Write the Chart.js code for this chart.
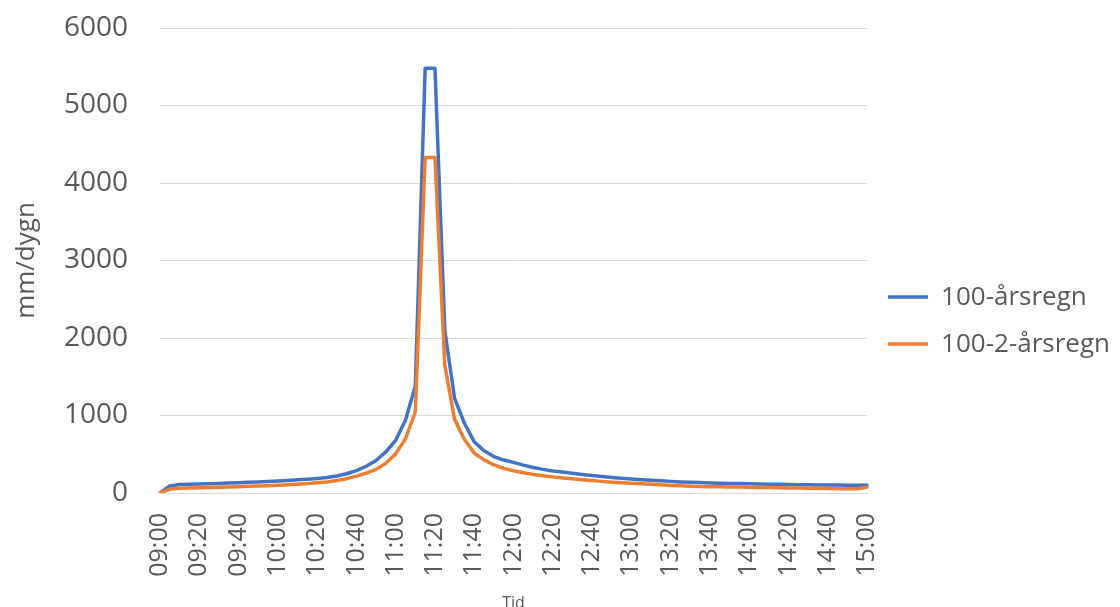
<!DOCTYPE html>
<html>
<head>
<meta charset="utf-8">
<script src="https://cdn.jsdelivr.net/npm/chart.js@4"></script>
<style>
  body { margin: 0; background: #fff; }
  #wrap { width: 1120px; height: 607px; position: relative; }
</style>
</head>
<body>
<div id="wrap"><canvas id="rainChart"></canvas></div>
<script>
// time steps, every 5 minutes
const times = [
  '09:00','09:05','09:10','09:15','09:20','09:25','09:30','09:35','09:40','09:45','09:50','09:55',
  '10:00','10:05','10:10','10:15','10:20','10:25','10:30','10:35','10:40','10:45','10:50','10:55',
  '11:00','11:05','11:10','11:15','11:20','11:25','11:30','11:35','11:40','11:45','11:50','11:55',
  '12:00','12:05','12:10','12:15','12:20','12:25','12:30','12:35','12:40','12:45','12:50','12:55',
  '13:00','13:05','13:10','13:15','13:20','13:25','13:30','13:35','13:40','13:45','13:50','13:55',
  '14:00','14:05','14:10','14:15','14:20','14:25','14:30','14:35','14:40','14:45','14:50','14:55',
  '15:00'
];

// mm/dygn
const rain100 = [
  0, 90, 110, 113, 116, 120, 124, 128, 133, 138, 143, 149,
  155, 162, 170, 178, 188, 200, 220, 248, 288, 345, 420, 530,
  680, 940, 1380, 5480, 5480, 2100, 1220, 900, 660, 545, 470, 425,
  395, 360, 330, 305, 285, 270, 255, 240, 225, 212, 200, 190,
  180, 172, 165, 158, 150, 143, 138, 134, 130, 127, 124, 121,
  118, 116, 114, 112, 110, 108, 106, 104, 103, 102, 101, 100,
  100
];
const rain100_2 = [
  0, 50, 62, 65, 68, 71, 74, 78, 82, 86, 90, 95,
  100, 106, 113, 121, 131, 143, 160, 185, 218, 256, 305, 385,
  505, 700, 1045, 4330, 4330, 1650, 950, 690, 515, 428, 362, 318,
  288, 262, 240, 222, 208, 195, 183, 172, 162, 150, 140, 132,
  125, 118, 112, 105, 98, 92, 88, 85, 82, 80, 78, 76,
  74, 72, 70, 68, 66, 64, 62, 60, 58, 55, 54, 55,
  75
];

const yTicks = [0, 1000, 2000, 3000, 4000, 5000, 6000];
const labelEvery = 4; // one label per 20 minutes

Chart.defaults.font.family = "'Open Sans', 'Noto Sans', sans-serif";
Chart.defaults.color = '#595959';

const ctx = document.getElementById('rainChart').getContext('2d');
new Chart(ctx, {
  type: 'line',
  data: {
    labels: times,
    datasets: [
      {
        label: '100-årsregn',
        data: rain100,
        borderColor: '#4472C4',
        backgroundColor: '#4472C4',
        borderWidth: 3.5,
        order: 1
      },
      {
        label: '100-2-årsregn',
        data: rain100_2,
        borderColor: '#ED7D31',
        backgroundColor: '#ED7D31',
        borderWidth: 3.5,
        order: 0 // drawn on top
      }
    ]
  },
  options: {
    responsive: true,
    maintainAspectRatio: false,
    animation: false,
    layout: { padding: { top: 28, right: 0, bottom: 0, left: 0 } },
    elements: {
      point: { radius: 0, hoverRadius: 0 },
      line: { tension: 0, fill: false, borderJoinStyle: 'round', borderCapStyle: 'round' }
    },
    plugins: {
      tooltip: { enabled: false },
      legend: {
        position: 'right',
        // empty title only pushes the items down a little
        title: { display: true, text: ' ', font: { size: 1 }, padding: { top: 5, bottom: 0 } },
        labels: {
          usePointStyle: true,
          pointStyle: 'line',
          pointStyleWidth: 40,
          padding: 21,
          color: '#595959',
          font: { size: 26 },
          sort: (a, b) => a.datasetIndex - b.datasetIndex
        }
      }
    },
    scales: {
      x: {
        grid: { display: false, drawTicks: false },
        border: { display: true, color: '#d9d9d9' },
        ticks: {
          autoSkip: false,
          maxRotation: 90,
          minRotation: 90,
          padding: 20,
          font: { size: 25 },
          callback: function (value, index) {
            return index % labelEvery === 0 ? times[index] : '';
          }
        },
        title: {
          display: true,
          text: 'Tid',
          font: { size: 16 },
          padding: { top: 0, bottom: -6 }
        },
        afterFit: (scale) => { scale.height = 114; }
      },
      y: {
        min: 0,
        max: 6000,
        afterBuildTicks: (scale) => { scale.ticks = yTicks.map(v => ({ value: v })); },
        grid: { color: '#d9d9d9', lineWidth: 1, drawTicks: true, tickLength: 28, tickColor: 'rgba(0,0,0,0)' },
        border: { display: false },
        ticks: {
          padding: 4,
          font: { size: 28 },
          callback: (v) => String(v)
        },
        title: {
          display: true,
          text: 'mm/dygn',
          font: { size: 26 },
          padding: { top: 11, bottom: 0 }
        },
        afterFit: (scale) => { scale.width = 160; }
      }
    }
  }
});
</script>
</body>
</html>
